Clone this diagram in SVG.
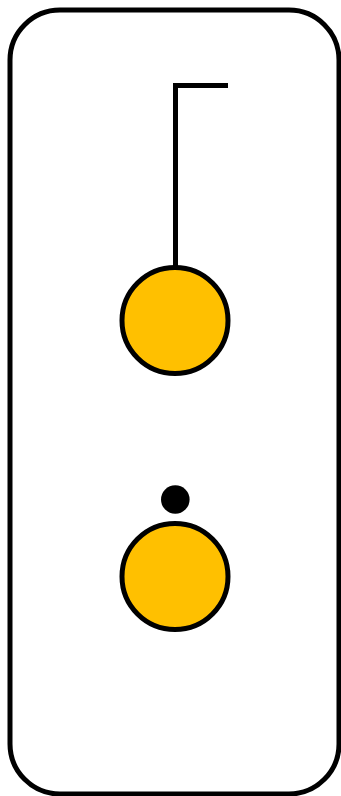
<svg xmlns="http://www.w3.org/2000/svg" width="341" height="796" viewBox="0 0 341 796">
<style>
.frame{fill:#fff;stroke:#000;stroke-width:5}
.node{fill:#FFC000;stroke:#000;stroke-width:5}
.wire{fill:none;stroke:#000;stroke-width:5}
</style>
<rect width="341" height="796" fill="#fff"/>
<rect class="frame" x="10" y="10" width="329" height="784" rx="50" ry="50"/>
<g id="connectors">
<path class="wire" d="M175.5 266 V85.5 H228"/>
</g>
<g id="node1"><circle class="node" cx="175" cy="320.5" r="53"/></g>
<g id="dot"><circle cx="175.3" cy="499.5" r="14.3" fill="#000"/></g>
<g id="node2"><circle class="node" cx="175" cy="576.5" r="53"/></g>
</svg>
